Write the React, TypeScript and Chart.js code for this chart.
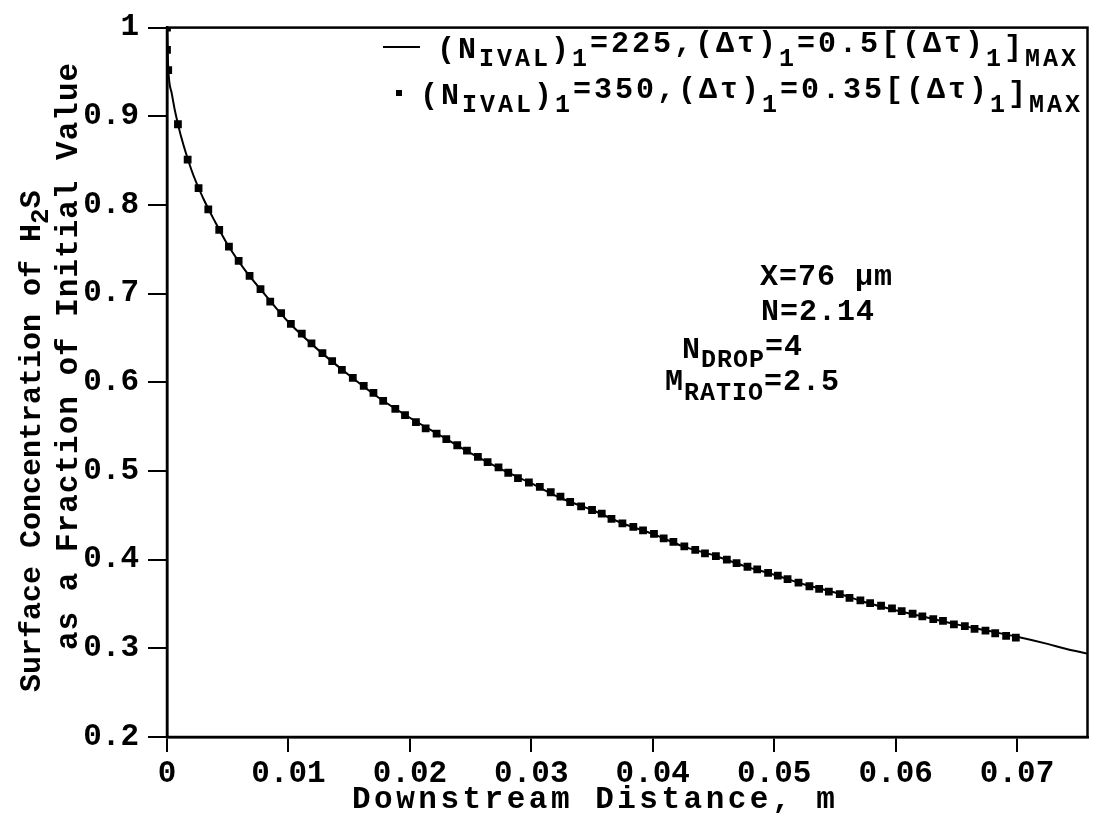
import React, { useEffect, useRef } from "react";
import { Chart, registerables } from "chart.js";
Chart.register(...registerables);

const FONT = '"Liberation Mono", "DejaVu Sans Mono", monospace';

const X_MIN = 0;
const X_MAX = 0.0758;
const Y_MIN = 0.2;
const Y_MAX = 1.0;

const xTickValues = [0, 0.01, 0.02, 0.03, 0.04, 0.05, 0.06, 0.07];
const xTickLabels = ["0", "0.01", "0.02", "0.03", "0.04", "0.05", "0.06", "0.07"];
const yTickValues = [0.2, 0.3, 0.4, 0.5, 0.6, 0.7, 0.8, 0.9, 1.0];
const yTickLabels = ["0.2", "0.3", "0.4", "0.5", "0.6", "0.7", "0.8", "0.9", "1"];

// Series 1: solid line, (N_IVAL)1=225
const lineX = [0, 0.0001, 0.0004, 0.0009, 0.002, 0.003, 0.004, 0.005, 0.0065, 0.008,
  0.010, 0.0125, 0.015, 0.0175, 0.020, 0.0225, 0.025, 0.0275, 0.030, 0.0325,
  0.035, 0.0375, 0.040, 0.0425, 0.045, 0.0475, 0.050, 0.0525, 0.055, 0.0575,
  0.060, 0.0625, 0.065, 0.0675, 0.070, 0.0725, 0.074, 0.0758];
const lineY = [1.0, 0.955, 0.925, 0.891, 0.840, 0.807, 0.780, 0.755, 0.725, 0.700,
  0.668, 0.636, 0.608, 0.582, 0.560, 0.540, 0.520, 0.502, 0.486, 0.469,
  0.456, 0.441, 0.429, 0.415, 0.405, 0.393, 0.383, 0.372, 0.363, 0.352,
  0.343, 0.335, 0.327, 0.320, 0.313, 0.305, 0.2995, 0.294];

// Series 2: square markers, (N_IVAL)1=350
const markerX = [0, 0, 0.0001, 0.0009,
  0.0017, 0.0026, 0.0034, 0.0043, 0.0051, 0.0059, 0.0068, 0.0077, 0.0085, 0.0094,
  0.0102, 0.0111, 0.0119, 0.0128, 0.0136, 0.0144, 0.0153, 0.0162, 0.0170, 0.0178,
  0.0188, 0.0196, 0.0205, 0.0213, 0.0222, 0.0230, 0.0239, 0.0247, 0.0256, 0.0264,
  0.0273, 0.0281, 0.0289, 0.0298, 0.0307, 0.0316, 0.0324, 0.0332, 0.0341, 0.0350,
  0.0358, 0.0366, 0.0375, 0.0384, 0.0392, 0.0401, 0.0409, 0.0417, 0.0426, 0.0435,
  0.0443, 0.0452, 0.0461, 0.0469, 0.0478, 0.0486, 0.0495, 0.0503, 0.0511, 0.0520,
  0.0529, 0.0537, 0.0545, 0.0554, 0.0562, 0.0571, 0.0579, 0.0588, 0.0597, 0.0605,
  0.0614, 0.0622, 0.0631, 0.0639, 0.0648, 0.0657, 0.0665, 0.0674, 0.0682, 0.0691,
  0.0699];
const markerY = [1.000, 0.975, 0.952, 0.891,
  0.851, 0.819, 0.795, 0.772, 0.753, 0.737, 0.720, 0.705, 0.691, 0.678,
  0.666, 0.655, 0.644, 0.633, 0.624, 0.614, 0.605, 0.596, 0.588, 0.579,
  0.570, 0.563, 0.555, 0.548, 0.542, 0.536, 0.529, 0.523, 0.516, 0.510,
  0.504, 0.498, 0.492, 0.487, 0.482, 0.476, 0.471, 0.465, 0.460, 0.456,
  0.452, 0.446, 0.441, 0.437, 0.433, 0.429, 0.424, 0.420, 0.415, 0.411,
  0.407, 0.404, 0.400, 0.396, 0.392, 0.389, 0.385, 0.382, 0.378, 0.374,
  0.370, 0.367, 0.364, 0.361, 0.357, 0.354, 0.351, 0.348, 0.345, 0.342,
  0.339, 0.336, 0.333, 0.331, 0.327, 0.325, 0.322, 0.320, 0.317, 0.314,
  0.312];

// [text, vertical offset, font size]
type Seg = [string, number, number];

const xTitle: Seg[] = [["Downstream Distance, m", 0, 31]];
const yTitle1: Seg[] = [["Surface Concentration of H", 0, 30], ["2", 8, 26], ["S", 0, 30]];
const yTitle2: Seg[] = [["as a Fraction of Initial Value", 0, 31]];

const legend1: Seg[] = [["(N", 0, 30], ["IVAL", 8, 25], [")", 0, 30], ["1", 8, 25], ["=225,(\u0394\u03C4)", -6, 30], ["1", 8, 25],
  ["=0.5[(\u0394\u03C4)", -6, 30], ["1", 8, 25], ["]", -2, 30], ["MAX", 8, 25]];
const legend2: Seg[] = [["(N", 0, 30], ["IVAL", 8, 25], [")", 0, 30], ["1", 8, 25], ["=350,(\u0394\u03C4)", -6, 30], ["1", 8, 25],
  ["=0.35[(\u0394\u03C4)", -6, 30], ["1", 8, 25], ["]", -2, 30], ["MAX", 8, 25]];

const note1: Seg[] = [["X=76 \u03BCm", 0, 30]];
const note2: Seg[] = [["N=2.14", 0, 30]];
const note3: Seg[] = [["N", 0, 30], ["DROP", 9, 25], ["=4", -3, 30]];
const note4: Seg[] = [["M", 0, 30], ["RATIO", 10, 25], ["=2.5", 0, 30]];

function drawRich(ctx: CanvasRenderingContext2D, x: number, y: number, segs: Seg[], spacing: number) {
  (ctx as any).letterSpacing = spacing + "px";
  ctx.textBaseline = "alphabetic";
  ctx.textAlign = "left";
  let cx = x;
  for (const [t, dy, size] of segs) {
    ctx.font = `bold ${size}px ${FONT}`;
    ctx.fillText(t, cx, y + dy);
    cx += ctx.measureText(t).width;
  }
  (ctx as any).letterSpacing = "0px";
}

export default function App() {
  const ref = useRef<HTMLCanvasElement>(null);
  useEffect(() => {
    const canvas = ref.current!;
    const overlay = {
      id: "overlay",
      afterDraw(chart: any) {
        const ctx: CanvasRenderingContext2D = chart.ctx;
        const { left, right, top, bottom } = chart.chartArea;
        ctx.save();
        ctx.strokeStyle = "#000";
        ctx.lineWidth = 2.5;
        ctx.strokeRect(left, top, right - left, bottom - top);
        ctx.fillStyle = "#000";

        // axis titles
        drawRich(ctx, 352, 808, xTitle, 3.5);
        ctx.save();
        ctx.translate(40, 692);
        ctx.rotate(-Math.PI / 2);
        drawRich(ctx, 0, 0, yTitle1, 0);
        ctx.restore();
        ctx.save();
        ctx.translate(77, 650);
        ctx.rotate(-Math.PI / 2);
        drawRich(ctx, 0, 0, yTitle2, 1);
        ctx.restore();

        // legend
        ctx.beginPath();
        ctx.lineWidth = 2;
        ctx.moveTo(383, 47);
        ctx.lineTo(420, 47);
        ctx.stroke();
        ctx.fillRect(396, 90, 6, 6);
        drawRich(ctx, 437, 58, legend1, 3);
        drawRich(ctx, 420, 104, legend2, 3);

        // annotations
        drawRich(ctx, 760, 285, note1, 1);
        drawRich(ctx, 761, 320, note2, 1);
        drawRich(ctx, 682, 358, note3, 1);
        drawRich(ctx, 665, 390, note4, 1);
        ctx.restore();
      },
    };

    const tickFont = { family: FONT, size: 31, weight: "bold" as const };
    const chart = new Chart(canvas, {
      type: "scatter",
      data: {
        datasets: [
          {
            label: "(N_IVAL)1=225",
            data: lineX.map((x, i) => ({ x, y: lineY[i] })),
            showLine: true,
            borderColor: "#000",
            borderWidth: 2,
            pointRadius: 0,
            cubicInterpolationMode: "monotone",
            order: 2,
          },
          {
            label: "(N_IVAL)1=350",
            data: markerX.map((x, i) => ({ x, y: markerY[i] })),
            showLine: false,
            pointStyle: "rect",
            pointRadius: 5.5,
            backgroundColor: "#000",
            borderColor: "#000",
            borderWidth: 0,
            order: 1,
          },
        ],
      },
      options: {
        animation: false,
        responsive: false,
        maintainAspectRatio: false,
        layout: { padding: { left: 0, top: 20, right: 3, bottom: 0 } },
        plugins: { legend: { display: false }, tooltip: { enabled: false } },
        scales: {
          x: {
            type: "linear",
            min: X_MIN,
            max: X_MAX,
            afterBuildTicks: (s: any) => { s.ticks = xTickValues.map((v) => ({ value: v })); },
            afterFit: (s: any) => { s.height = 76; },
            ticks: {
              callback: (_v: any, i: number) => xTickLabels[i],
              font: tickFont,
              color: "#000",
              padding: 4,
              maxRotation: 0,
              autoSkip: false,
            },
            grid: { drawOnChartArea: false, drawTicks: true, tickLength: 15, color: "#000", lineWidth: 2 },
            border: { display: true, color: "#000", width: 2.5 },
          },
          y: {
            type: "linear",
            min: Y_MIN,
            max: Y_MAX,
            afterBuildTicks: (s: any) => { s.ticks = yTickValues.map((v) => ({ value: v })); },
            afterFit: (s: any) => { s.width = 167; },
            ticks: {
              callback: (_v: any, i: number) => yTickLabels[i],
              font: tickFont,
              color: "#000",
              padding: 9,
              autoSkip: false,
            },
            grid: { drawOnChartArea: false, drawTicks: true, tickLength: 19, color: "#000", lineWidth: 2 },
            border: { display: true, color: "#000", width: 2.5 },
          },
        },
      },
      plugins: [overlay],
    } as any);
    return () => chart.destroy();
  }, []);
  return (
    <div style={{ position: "absolute", left: 0, top: 0, width: 1093, height: 813, background: "#fff" }}>
      <canvas ref={ref} width={1093} height={813} />
    </div>
  );
}
